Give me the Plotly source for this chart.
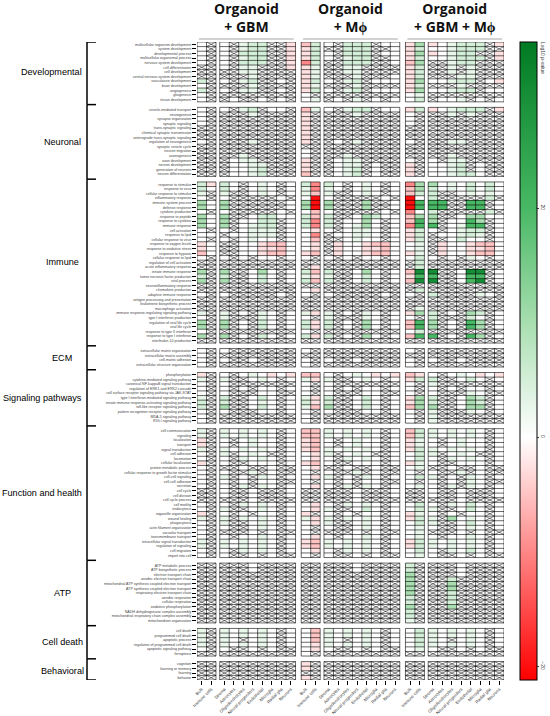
import plotly.graph_objects as go

# ---- data ----
# code per cell: x = not significant (hatched), . = ~0,
# 1..5 = increasingly green (positive), a..d = increasingly red (negative)
groups = ["Organoid<br>+ GBM", "Organoid<br>+ Mϕ", "Organoid<br>+ GBM + Mϕ"]
columns = ["Bulk", "Immune cells", "Stroma", "Astrocytes", "Oligodendrocytes",
           "Neural progenitors", "Endothelial", "Microglia", "Radial glia", "Neurons"]
code_values = {".": 0, "1": 2.5, "2": 5, "3": 10, "4": 20, "5": 30,
               "a": -2.5, "b": -5, "c": -10, "d": -20}

developmental_labels = [
    "multicellular organism development", "system development", "developmental process",
    "multicellular organismal process", "nervous system development", "cell differentiation",
    "cell development", "central nervous system development", "vasculature development",
    "brain development", "angiogenesis", "gliogenesis", "tissue development"]
developmental = [
    ".x.x122xxa b2.x222x.. a3a.1222xa",
    ".x.x122xxa a2xx222xx. a2..1222xx",
    ".x.x222xxa a2.x222x.. a3a.122xxa",
    ".x.x122xxa a2.x122xx. a2..1222xa",
    ".x.x222xxa c2xx222xx. b3xx122xxx",
    "xx.x11xxxa a1xx11xxxx a2xx1x1xxx",
    "xxxx11xxxx a1xx11xxxx a2xx1x1xxx",
    "xxxxx1xxxx a1xxx1xxx. a2xxx11xxx",
    "2x.x12xx.x a2.x12x... a3..122x.a",
    ".xxxx1xxxx a1xxx1xxxx a2xxx1xxxx",
    "2x.x11xx.x a2.x12x... a3..122x..",
    ".xxxxxxxxx .xxxxxxxxx .1xxxxxxxx",
    ".xx.xx.x.x .1x.x1x.x. .2x..1x.x."]

neuronal_labels = [
    "vesicle-mediated transport", "neurogenesis", "synapse organization", "synaptic signaling",
    "trans-synaptic signaling", "chemical synaptic transmission",
    "anterograde trans-synaptic signaling", "regulation of neurogenesis",
    "synaptic vesicle cycle", "neuron migration", "axonogenesis", "axon development",
    "neuron development", "generation of neurons", "neuron differentiation"]
neuronal = [
    ".x.x12x..x b1.x122x.. a2a.1222xa",
    ".xxxx1xxxx axxxx1xxxx .xxx1x1xxx",
    ".xxxxxxxxx axxxxxxxxx .xxxxxxxxx",
    ".xxxxxxxxx axxxxxxxxx .xxxxxxxxx",
    "xxxxxxxxxx axxxxxxxxx xxxxxxxxxx",
    "xxxxxxxxxx axxxxxxxxx xxxxxxxxxx",
    "xxxxxxxxxx axxxxxxxxx xxxxxxxxxx",
    ".xxxx1xxxx axx.x1xxxx .xxx11xxxx",
    "xxxxxxxxxx xxxxxxxxxx xxxxxxxxxx",
    "xxxxxxxxxx .xxxxxxxxx xxxxxxxxxx",
    "xxxx1xxxxx .xxx1xxxxx xxxx1xxxxx",
    "xxx.11xxxx axx.11xxxx .x.x11xxxx",
    "xxx..11xxx axx.11x.xx ax..12x.xx",
    "xxx..12xxx axx.12x.xx ax..12x.xx",
    "xxx..12xxx bxx.12x.xx ax..122.xx"]

immune_labels = [
    "response to stimulus", "response to virus", "cellular response to stimulus",
    "inflammatory response", "immune system process", "defense response",
    "cytokine production", "response to peptide", "response to cytokine", "immune response",
    "cell activation", "response to lipid", "cellular response to virus",
    "response to oxygen levels", "response to oxidative stress", "response to hypoxia",
    "cellular response to lipid", "regulation of cell activation",
    "acute inflammatory response", "innate immune response",
    "tumor necrosis factor production", "viral process", "neuroinflammatory response",
    "chemokine production", "adaptive immune response",
    "antigen processing and presentation", "leukotriene biosynthetic process",
    "macrophage activation", "immune response-regulating signaling pathway",
    "type I interferon production", "regulation of viral life cycle", "viral life cycle",
    "response to type II interferon", "response to type I interferon",
    "interleukin-10 production"]
immune = [
    "2a2.x.1.x. 2c2.x.1.x. c33.1.2.2.",
    "2.2.x.1.x. 1c1.x.1.x. b32.1.2.2.",
    "1x1xx.1.x. 1b1xx.1.x. b22xx.1.1.",
    ".x.xxxxx.x .d.xxxxx.x d.2xxxxx2x",
    "3.3xxxxxx. 3d3xxx3xx. d444xx44x.",
    "3.3xxxxxx. 3d3xxx3xx. d444xx44x.",
    ".x.xxxxx.x .b.xxxxx.x c.2xxxxx2x",
    "3.3xx.22.. 2b2xx.32.. b33xx.33..",
    "3.3x..22x. 2c2x..3.x. b43x..43x.",
    "3.3x.122x. 2c2x.13.x. c44x.144x.",
    ".x.x.111x. .a.x.11.x. a2.x.122x.",
    "..x..111x. .cx..11.x. a2x..121x.",
    ".x.x.1..x. .bxx.1..x. a2xx.2..x.",
    "a.xx..abb. .axa..abb. .1xa..abb.",
    "a.xx..aab. .axa..aab. .1xa..aab.",
    "b.xx..abb. abxa..abb. a1xa..abb.",
    ".x.x.x..x. .x.x.x..x. .2.x.x1.x.",
    "xxxxxxxxxx xxxxxxxxxx x2xxxxxxxx",
    "xxxxxxxxxx xaxxxxxxxx x2xxxxxxxx",
    "3x3xx.3.x. 2b2xx.3.x. b55xx.55x.",
    "2x2xx.2.x. 1a1xx.2.x. a44xx.44x.",
    "3x3xx.2.x. 2b2xx.2.x. b55xx.45x.",
    "xxxxxxxxxx xxxxxxxxxx xxxxxxxxxx",
    "xxxxxxxxxx .axxxxxxxx x2xxxxxxxx",
    ".x.xxxxx.x .x.xxxxx.x .x2xxxx1.x",
    "xxxxxxxxxx xxxxxxxxxx xxxxxxxxxx",
    "xxxxxxxxxx xxxxxxxxxx xxxxxxxxxx",
    "xxxxxxxxxx xxxxxxxxxx x1xxxxxxxx",
    "1x1x.x1.x. 1a1x.x1.x. a32x.x32x.",
    ".x1xxx1.x. .x1xxx1.x. .x2xxx2.x.",
    "3x3x.x2.x. 2a2x.x3.x. b43x.x43x.",
    "3x3x.x2.x. 2a2x.x3.x. b43x.x43x.",
    ".xxxxxxxxx .xxxxxxxxx .2xxxxxxxx",
    "3x3x.x2.x. 2a2x.x3.x. b44x.x43x.",
    "xxxxxxxxxx xxxxxxxxxx xxxxxxxxxx"]

ecm_labels = ["extracellular matrix organization", "extracellular matrix assembly",
              "cell-matrix adhesion", "extracellular structure organization"]
ecm = [
    ".x.xxxxxxx .xxxxxxxxx .xxxxxxxxx",
    ".xxxxxxxxx xxxxxxxxxx xxxxxxxxxx",
    ".x.xx.xxxx .x.xx.xxxx .x.xx.xxxx",
    ".xxxxxxxxx .xxxxxxxxx .xxxxxxxxx"]

signaling_labels = [
    "phosphorylation", "cytokine-mediated signaling pathway",
    "canonical NF-kappaB signal transduction", "regulation of ERK1 and ERK2 cascade",
    "cell surface receptor signaling pathway via JAK-STAT",
    "type I interferon-mediated signaling pathway",
    "innate immune response-activating signaling pathway",
    "toll-like receptor signaling pathway", "pattern recognition receptor signaling pathway",
    "MDA-5 signaling pathway", "RIG-I signaling pathway"]
signaling = [
    "ax.x.1.a.a bb.x.1.a.a ba.x.1.a.a",
    "1x1xx.1.x. 1a1xx.1.x. a22xx.2.x.",
    ".x.xxxxxxx .x.xxxxxxx .x1xxxxxxx",
    ".x.x.x..x. .x.x.x..x. .x.x.x..x.",
    ".x.xxx..xx .x.xxx..xx .x.xxx1.xx",
    "1x2xx.2.x. 1a2xx.2.x. a32xx.32x.",
    "2x2xx.1.x. 2a2xx.2.x. a32xx.32x.",
    "2x3xx.2.x. 1b3xx.2.x. b33xx.33x.",
    ".x.xxx..x. .x.xxx..x. .x1xxx1.x.",
    ".xxxxxxxxx .xxxxxxxxx .x1xxxxxxx",
    ".xxxxxxxxx .xxxxxxxxx .x1xxxxxxx"]

function_labels = [
    "cell communication", "signaling", "localization", "transport", "signal transduction",
    "cell adhesion", "locomotion", "cellular localization", "protein metabolic process",
    "cellular response to growth factor stimulus", "cell-cell signaling",
    "cell-cell adhesion", "secretion", "cell cycle", "cell division", "cell cycle process",
    "cell motility", "endocytosis", "organelle organization", "wound healing",
    "phagocytosis", "actin filament organization", "vacuolar transport",
    "transmembrane transport", "intracellular signal transduction",
    "regulation of signaling", "cell migration", "import into cell"]
function = [
    "1x1.1.1.x. bb1.1.1.x. b21.1.1.x.",
    "1x1.1.1.x. bb1.1.1.x. b21.1.1.x.",
    "ax.x.1..x. ab.x.1..x. a1.x.1..x.",
    "ax.x.1..x. ab.x.1..x. a1.x.1..x.",
    "1x1.1.1.x. ab1.1.1.x. a21.1.1.x.",
    ".x1x.1.xx. .a1x.1.xx. .21x.1.xx.",
    ".x.x1.1.x. .a.x1.1.x. .2.x1.1.x.",
    "ax.xx...x. ab.xx...x. a1.xx...x.",
    ".xxx.xx.xx .axx.xx.xx .1xx.xx.xx",
    ".x.xx1x.xx .x.xx1x.xx .x.xx1x.xx",
    ".x1x.x1.x. .a1x.x1.x. .21x.x1.x.",
    ".x.x.x..xx .x.x.x..xx .x.x.x1.xx",
    ".x.x1x1.x. .a.x1x1.x. .1.x1x1.x.",
    "xx.xx.xxx. xxxxx.xxx. xx.xx.xxx.",
    "xx.xx.xxx. xxxxx.xxx. xx.xx.xxx.",
    "xxxxx.xxxx xxxxx.xxxx xxxxx.xxxx",
    ".x.x1.1.x. .a.x1.1.x. .2.x1.2.x.",
    ".x1xx.1.x. .a1xx.2.x. .21xx.2.x.",
    "ax.x.x..x. ax.x.x..x. a1.x.x..x.",
    "1x1x1.1.x. 1a1x1.1.x. a21x3.1.x.",
    ".x1xx.1.x. .a1xx.1.x. .21xx.2.x.",
    ".x.xx.1.x. .x.xx.1.x. .1.xx.1.x.",
    ".xxxx.x.xx .xxxx.x.xx .1xxx.x.xx",
    ".x.x..1.x. .a.x..1.x. .1.x..1.x.",
    "1x1.1.1.x. ab1.1.1.x. a21.1.1.x.",
    "1x1.1.1.x. ab1.1.1.x. a21.1.1.x.",
    ".x.x1.1.x. .a.x1.1.x. .2.x1.2.x.",
    ".x.xx.x.xx .x.xx.x.xx .1.xx.x.xx"]

atp_labels = [
    "ATP metabolic process", "ATP biosynthetic process", "electron transport chain",
    "aerobic electron transport chain", "mitochondrial ATP synthesis coupled electron transport",
    "ATP synthesis coupled electron transport", "respiratory electron transport chain",
    "aerobic respiration", "cellular respiration", "oxidative phosphorylation",
    "NADH dehydrogenase complex assembly", "mitochondrial respiratory chain complex assembly",
    "mitochondrion organization"]
atp = [
    "xxxxx.xxxx xxxxx.xxxx 2xxxx.xxxx",
    "xxxxx.xxxx xxxxx.xxxx 2xxxx.xxxx",
    "xxxxxxxxxx xxxxxxxxxx 3xxxx.xxxx",
    "xxxxxxxxxx xxxxxxxxxx 3xxx2xxxxx",
    "xxxxxxxxxx xxxxxxxxxx 3xxx3xxxxx",
    "xxxxxxxxxx xxxxxxxxxx 3xxx3xxxxx",
    "xxxxxxxxxx xxxxxxxxxx 3xxx2xxxxx",
    "xxxxxxxxxx xxxxxxxxxx 2xxx2xxxxx",
    "xxxxxxxxxx xxxxxxxxxx 2xxx2xxxxx",
    "xxxxxxxxxx xxxxxxxxxx 3xxx3xxxxx",
    "xxxxxxxxxx xxxxxxxxxx 2xxxxxxxxx",
    "xxxxxxxxxx xxxxxxxxxx 2xxxxxxxxx",
    "xxxxxxxxxx xxxxxxxxxx 1xxxxxxxxx"]

death_labels = ["cell death", "programmed cell death", "apoptotic process",
                "regulation of programmed cell death", "apoptotic signaling pathway",
                "ferroptosis"]
death = [
    "1x1.1.1.x. .b1.1.1.x. .21.1.1.x.",
    "1x1.1.1.x. .b1.1.1.x. .21.1.1.x.",
    "1x1.x.1.x. .b1.x.1.x. .21.x.1.x.",
    "1x1.1.1.x. .a1.1.1.x. .21.1.1.x.",
    ".x.xx.x.xx .a.xx.x.xx .1.xx.x.xx",
    "xxxxxxxxxx .xxxxxxxxx xxxxxxxxxx"]

behavior_labels = ["cognition", "learning or memory", "learning", "behavior"]
behavior = [
    "xxxxxxxxxx axxxxxxxxx xxxxxxxxxx",
    "xxxxxxxxxx axxxxxxxxx xxxxxxxxxx",
    "xxxxxxxxxx xxxxxxxxxx xxxxxxxxxx",
    "xxxxxxxxxx axxxxxxxxx xxxxxxxxxx"]

sections = [
    ("Developmental", developmental_labels, developmental),
    ("Neuronal", neuronal_labels, neuronal),
    ("Immune", immune_labels, immune),
    ("ECM", ecm_labels, ecm),
    ("Signaling pathways", signaling_labels, signaling),
    ("Function and health", function_labels, function),
    ("ATP", atp_labels, atp),
    ("Cell death", death_labels, death),
    ("Behavioral", behavior_labels, behavior),
]

zmin, zmax = -21.2, 34.5

# ---- layout geometry (in cell units) ----
W, H = 550, 716
inner_gap, group_gap, sect_gap = 0.4, 0.6, 1.2

# column edges, with blank gap bricks
xe, xcols = [0.0], []
for g in range(3):
    for j in range(10):
        xcols.append(g * 10 + j)
        xe.append(xe[-1] + 1)
        if j == 1:
            xcols.append(None)
            xe.append(xe[-1] + inner_gap)
    if g < 2:
        xcols.append(None)
        xe.append(xe[-1] + group_gap)
xmax = xe[-1]
col_left = {c: xe[i] for i, c in enumerate(xcols) if c is not None}

# row edges
ye, yrows = [0.0], []
row_codes, row_labels, sect_spans = [], [], []
for s, (name, labels, rows) in enumerate(sections):
    top = ye[-1]
    for lab, r in zip(labels, rows):
        yrows.append(len(row_codes))
        row_codes.append(r.replace(" ", ""))
        row_labels.append(lab)
        ye.append(ye[-1] + 1)
    sect_spans.append((name, top, ye[-1]))
    if s < len(sections) - 1:
        yrows.append(None)
        ye.append(ye[-1] + sect_gap)
ymax = ye[-1]
row_top = {r: ye[i] for i, r in enumerate(yrows) if r is not None}

z = []
for r in yrows:
    line = []
    for c in xcols:
        if r is None or c is None:
            line.append(None)
        else:
            line.append(code_values.get(row_codes[r][c]))
    z.append(line)


def frac(v):
    return (v - zmin) / (zmax - zmin)


colorscale = [[0, "rgb(255,0,0)"], [frac(0), "rgb(255,255,255)"],
              [frac(10), "rgb(168,222,176)"], [frac(20), "rgb(72,184,100)"],
              [1, "rgb(0,122,35)"]]

fig = go.Figure()
fig.add_trace(go.Heatmap(
    x=xe, y=ye, z=z, zmin=zmin, zmax=zmax, colorscale=colorscale,
    hoverinfo="skip",
    colorbar=dict(x=520 / W, xanchor="left", y=1 - 361 / H, yanchor="middle",
                  len=638, lenmode="pixels", thickness=17, thicknessmode="pixels",
                  outlinecolor="black", outlinewidth=1, xpad=0, ypad=0,
                  tickvals=[-20, 0, 20], tickangle=90, ticks="outside", ticklen=2,
                  tickfont=dict(size=5, color="#333", family="Arial")),
))

# cell borders per block
blocks = [(0, 2), (2, 10)]
gx, gy = [], []
for name, top, bot in sect_spans:
    for g in range(3):
        for a, b in blocks:
            left = col_left[g * 10 + a]
            right = col_left[g * 10 + b - 1] + 1
            k = top
            while k <= bot + 1e-9:
                gx += [left, right, None]
                gy += [k, k, None]
                k += 1
            for c in range(a, b + 1):
                xx = left + (c - a)
                gx += [xx, xx, None]
                gy += [top, bot, None]
fig.add_trace(go.Scatter(x=gx, y=gy, mode="lines", hoverinfo="skip",
                         line=dict(color="black", width=0.6), showlegend=False))

# hatched (non-significant) cells
hx, hy = [], []
for r, code in enumerate(row_codes):
    for c, ch in enumerate(code):
        if ch == "x":
            x0, y0 = col_left[c], row_top[r]
            hx += [x0, x0 + 1, None, x0, x0 + 1, None]
            hy += [y0, y0 + 1, None, y0 + 1, y0, None]
fig.add_trace(go.Scatter(x=hx, y=hy, mode="lines", hoverinfo="skip",
                         line=dict(color="black", width=0.5), showlegend=False))

shapes, annotations = [], []
# group headers
for g, title in enumerate(groups):
    left = col_left[g * 10]
    right = col_left[g * 10 + 9] + 1
    shapes.append(dict(type="line", xref="x", yref="paper", x0=left + 0.2, x1=right - 0.2,
                       y0=1 - 39 / H, y1=1 - 39 / H, line=dict(color="#a6a6a6", width=1)))
    annotations.append(dict(xref="x", yref="paper", x=(left + right) / 2, y=1 - 17.5 / H,
                            text="<b>" + title + "</b>", showarrow=False,
                            xanchor="center", yanchor="middle",
                            font=dict(size=14, family="Open Sans", color="#111")))

# section brackets and names
bx = 87 / W
for i, (name, top, bot) in enumerate(sect_spans):
    cap_top = top - (sect_gap / 2 if i > 0 else 0)
    shapes.append(dict(type="line", xref="paper", yref="y", x0=bx, x1=bx,
                       y0=cap_top, y1=bot + (sect_gap / 2 if i < len(sect_spans) - 1 else 0),
                       line=dict(color="black", width=1.5)))
    shapes.append(dict(type="line", xref="paper", yref="y", x0=bx, x1=96 / W,
                       y0=cap_top, y1=cap_top, line=dict(color="black", width=1.5)))
    if i == len(sect_spans) - 1:
        shapes.append(dict(type="line", xref="paper", yref="y", x0=bx, x1=96 / W,
                           y0=bot, y1=bot, line=dict(color="black", width=1.5)))
    long_name = len(name) > 10
    annotations.append(dict(xref="paper", yref="y", x=(84 if long_name else 62) / W,
                            y=(top + bot) / 2, text=name, showarrow=False,
                            xanchor="right" if long_name else "center", yanchor="middle",
                            font=dict(size=9.1, family="Arial", color="black")))

annotations.append(dict(xref="paper", yref="paper", x=543 / W, y=1 - 58 / H,
                        text="Log10 p-value", textangle=90, showarrow=False,
                        xanchor="center", yanchor="middle",
                        font=dict(size=5, family="Arial", color="#333")))

fig.update_layout(
    width=W, height=H, margin=dict(l=0, r=0, t=0, b=0),
    paper_bgcolor="white", plot_bgcolor="white", showlegend=False,
    shapes=shapes, annotations=annotations,
    xaxis=dict(domain=[197 / W, 504 / W], range=[0, xmax], showgrid=False, zeroline=False,
               automargin=False, tickmode="array",
               tickvals=[col_left[c] + 0.5 for c in range(30)],
               ticktext=columns * 3, tickangle=-45, ticks="outside", ticklen=4,
               tickwidth=0.6, tickcolor="black",
               tickfont=dict(size=4.3, family="Arial", color="#333")),
    yaxis=dict(domain=[(H - 680) / H, (H - 42) / H], range=[ymax, 0], showgrid=False,
               zeroline=False, automargin=False, tickmode="array",
               tickvals=[row_top[r] + 0.5 for r in range(len(row_codes))],
               ticktext=row_labels, ticks="outside", ticklen=4, tickwidth=0.6,
               tickcolor="black", tickfont=dict(size=3.6, family="Arial", color="#444")),
)

fig.write_html("out.html", config={"displayModeBar": False},
               post_script="document.body.style.margin='0';")
